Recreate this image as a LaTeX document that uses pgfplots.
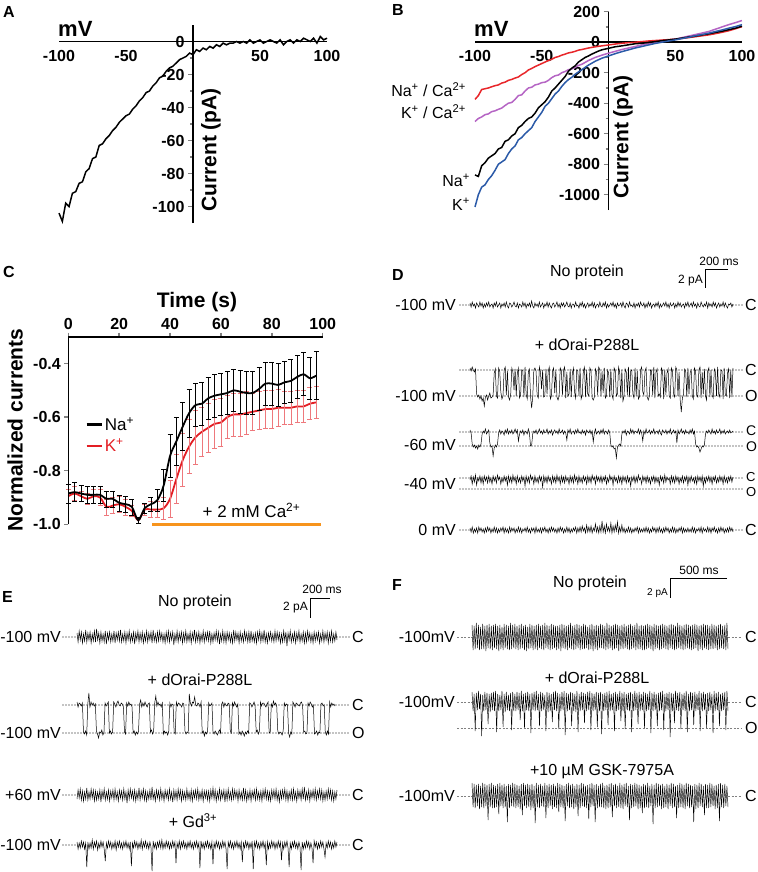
\documentclass[border=0pt]{standalone}
\usepackage{pgfplots}
\pgfplotsset{compat=1.18}
\usepackage{pgfplotstable}
\usepackage{fontspec}
\setmainfont{Liberation Sans}
\newcommand{\fs}[1]{\fontsize{#1}{#1}\selectfont}
\definecolor{bred}{HTML}{E8262A}
\definecolor{bpur}{HTML}{B565C4}
\definecolor{bblue}{HTML}{2B5AA8}
\definecolor{cred}{HTML}{E31E24}
\definecolor{corange}{HTML}{F7941D}
\pgfplotsset{
 iv/.style={scale only axis, anchor=south west, axis lines=middle, axis line style={-, line width=1.6pt},
  xmin=-100, xmax=100, xtick={-100,-50,50,100}, xtick style={draw=none}, tick align=outside,
  hide obscured x ticks=false, hide obscured y ticks=false,
  ytick style={line width=1.4pt}, minor tick style={line width=1.2pt}, major tick length=5pt, minor tick length=3pt, minor y tick num=1,
  tick label style={font=\bfseries\fs{16}}, /pgf/number format/assume math mode=true, /pgf/number format/1000 sep={}, clip=false},
 % traces in units of 0.1 pA, 240 samples
 trD/.style={hide axis, scale only axis, clip=false, anchor=origin, xmin=0, xmax=239, ymin=-50, ymax=20, height=70pt, width=#1},
 trs/.style={black, line width=0.5pt},
 trsF/.style={black, line width=0.45pt},
}
\tikzset{dots/.style={line width=1.4pt, dash pattern=on 0pt off 3pt, line cap=round},
 gdash/.style={gray, line width=0.5pt, dash pattern=on 2pt off 1.5pt},
 lab/.style={inner sep=0pt, font=\fs{16}}}
\pgfplotstableread{
t na ena k ek
0 -0.885 0.035 -0.895 0.025
2.5 -0.880 0.035 -0.885 0.025
5 -0.885 0.030 -0.895 0.020
7.5 -0.890 0.030 -0.905 0.020
10 -0.890 0.030 -0.895 0.025
12.5 -0.890 0.030 -0.900 0.030
15 -0.905 0.030 -0.935 0.030
17.5 -0.905 0.030 -0.930 0.030
20 -0.920 0.030 -0.925 0.030
22.5 -0.925 0.030 -0.935 0.030
25 -0.935 0.030 -0.950 0.020
27.5 -0.985 0.010 -0.985 0.010
30 -0.940 0.020 -0.945 0.020
32.5 -0.925 0.025 -0.945 0.030
35 -0.910 0.040 -0.945 0.030
37.5 -0.855 0.060 -0.940 0.040
40 -0.745 0.080 -0.905 0.070
42.5 -0.690 0.090 -0.830 0.090
45 -0.635 0.090 -0.760 0.100
47.5 -0.585 0.090 -0.710 0.100
50 -0.555 0.080 -0.675 0.100
52.5 -0.550 0.080 -0.655 0.090
55 -0.530 0.080 -0.640 0.090
57.5 -0.520 0.080 -0.625 0.090
60 -0.515 0.080 -0.620 0.090
62.5 -0.510 0.080 -0.600 0.080
65 -0.500 0.080 -0.590 0.080
67.5 -0.505 0.080 -0.590 0.080
70 -0.510 0.080 -0.585 0.080
72.5 -0.510 0.080 -0.580 0.070
75 -0.495 0.080 -0.575 0.070
77.5 -0.475 0.080 -0.570 0.070
80 -0.475 0.080 -0.570 0.070
82.5 -0.480 0.080 -0.565 0.070
85 -0.470 0.080 -0.565 0.060
87.5 -0.465 0.080 -0.565 0.060
90 -0.450 0.080 -0.560 0.060
92.5 -0.440 0.080 -0.560 0.060
95 -0.455 0.080 -0.550 0.060
97.5 -0.445 0.090 -0.545 0.060
}\dataC
\begin{document}
\begin{tikzpicture}
\useasboundingbox (0pt,0pt) rectangle (757pt,-872pt);
% panel letters
\node[anchor=west,inner sep=0,font=\bfseries\fs{16}] at (3pt,-12pt) {A};
\node[anchor=west,inner sep=0,font=\bfseries\fs{16}] at (392pt,-10pt) {B};
\node[anchor=west,inner sep=0,font=\bfseries\fs{16}] at (3pt,-272pt) {C};
\node[anchor=west,inner sep=0,font=\bfseries\fs{16}] at (392pt,-275pt) {D};
\node[anchor=west,inner sep=0,font=\bfseries\fs{16}] at (2pt,-597pt) {E};
\node[anchor=west,inner sep=0,font=\bfseries\fs{16}] at (392pt,-585pt) {F};

% ---------------- A
\begin{axis}[iv, at={(59pt,-223pt)}, width=268pt, height=198pt, ymin=-110, ymax=10, ytick={-100,-80,...,0}]
\addplot[black, line width=1.5pt] coordinates {
(-100,-104)(-97.5,-109)(-95,-98)(-92.5,-100)(-90,-92)(-87.5,-91)(-85,-86)(-82.5,-85)(-80,-79)(-77.5,-77)
(-75,-71)(-72.5,-70)(-70,-63)(-67.5,-62)(-65,-59)(-62.5,-57)(-60,-54)(-57.5,-52)(-55,-49)(-52.5,-47)
(-50,-45)(-47.5,-44)(-45,-41)(-42.5,-39)(-40,-36)(-37.5,-34)(-35,-31)(-32.5,-30)(-30,-27)(-27.5,-25)
(-25,-22)(-22.5,-21)(-20,-18)(-17.5,-16)(-15,-15)(-12.5,-13)(-10,-11)(-7.5,-10)(-5,-9)(-2.5,-7)
(0,-8)(2.5,-5)(5,-6)(7.5,-4)(10,-5)(12.5,-3)(15,-4)(17.5,-2)(20,-3)(22.5,-1)
(25,-2)(27.5,-1)(30,-1)(32.5,0)(35,-1)(37.5,0)(40,-1)(42.5,1)(45,-1)(47.5,0)
(50,1)(52.5,-1)(55,0)(57.5,1)(60,0)(62.5,-1)(65,1)(67.5,-2)(70,0)(72.5,1)
(75,-1)(77.5,1)(80,0)(82.5,2)(85,1)(87.5,0)(90,2)(92.5,-1)(95,3)(97.5,1)(100,2)};
\end{axis}
\node[anchor=base west,inner sep=0,font=\bfseries\fs{22}] at (58pt,-36.5pt) {mV};
\node[rotate=90,inner sep=0,font=\bfseries\fs{21}] at (211pt,-150pt) {Current (pA)};

% ---------------- B
\begin{axis}[iv, at={(475pt,-210pt)}, width=267pt, height=198.3pt, ymin=-1100, ymax=200, ytick={-1000,-800,...,200}]
\addplot[bred, line width=1.5pt] coordinates {
(-100,-375)(-97.5,-350)(-95,-310)(-92.5,-305)(-90,-300)(-87.5,-292)(-85,-285)(-82.5,-280)(-80,-268)(-77.5,-262)
(-75,-250)(-72.5,-244)(-70,-235)(-67.5,-228)(-65,-212)(-62.5,-200)(-60,-182)(-57.5,-172)(-55,-160)(-52.5,-150)
(-50,-140)(-47.5,-130)(-45,-120)(-42.5,-112)(-40,-100)(-37.5,-94)(-35,-85)(-32.5,-78)(-30,-70)(-27.5,-66)
(-25,-60)(-22.5,-52)(-20,-48)(-15,-38)(-10,-30)(-5,-24)(0,-18)(5,-12)(10,-7)(15,-3)(20,0)(25,4)(30,8)
(35,11)(40,14)(45,17)(50,20)(55,25)(60,30)(65,36)(70,42)(75,48)(80,56)(85,65)(90,75)(95,88)(100,102)};
\addplot[bpur, line width=1.5pt] coordinates {
(-100,-520)(-97.5,-500)(-95,-490)(-92.5,-475)(-90,-470)(-87.5,-455)(-85,-450)(-82.5,-440)(-80,-432)(-77.5,-415)
(-75,-400)(-72.5,-395)(-70,-375)(-67.5,-350)(-65,-345)(-62.5,-320)(-60,-300)(-57.5,-295)(-55,-280)(-52.5,-275)
(-50,-265)(-47.5,-262)(-45,-250)(-42.5,-232)(-40,-220)(-37.5,-215)(-35,-200)(-32.5,-192)(-30,-180)(-27.5,-175)
(-25,-165)(-22.5,-152)(-20,-145)(-15,-120)(-10,-100)(-5,-85)(0,-72)(5,-60)(10,-48)(15,-38)(20,-28)(25,-18)
(30,-10)(35,-2)(40,6)(45,14)(50,20)(55,30)(60,40)(65,50)(70,60)(75,70)(80,85)(85,100)(90,115)(95,128)(100,142)};
\addplot[black, line width=1.5pt] coordinates {
(-100,-870)(-97.5,-880)(-95,-810)(-92.5,-790)(-90,-760)(-87.5,-745)(-85,-730)(-82.5,-700)(-80,-690)(-77.5,-650)
(-75,-640)(-72.5,-615)(-70,-600)(-67.5,-560)(-65,-545)(-62.5,-520)(-60,-500)(-57.5,-490)(-55,-465)(-52.5,-430)
(-50,-410)(-47.5,-390)(-45,-360)(-42.5,-320)(-40,-300)(-37.5,-275)(-35,-250)(-32.5,-225)(-30,-190)(-27.5,-170)
(-25,-155)(-22.5,-130)(-20,-115)(-17.5,-100)(-15,-90)(-12.5,-78)(-10,-68)(-7.5,-58)(-5,-50)(-2.5,-45)
(0,-40)(5,-30)(10,-24)(15,-17)(20,-10)(25,-7)(30,-2)(35,4)(40,10)(45,15)(50,20)(55,27)(60,34)(65,40)
(70,48)(75,55)(80,64)(85,72)(90,82)(95,92)(100,105)};
\addplot[bblue, line width=1.5pt] coordinates {
(-100,-1080)(-97.5,-1000)(-95,-950)(-92.5,-935)(-90,-900)(-87.5,-875)(-85,-840)(-82.5,-800)(-80,-785)(-77.5,-770)
(-75,-730)(-72.5,-700)(-70,-680)(-67.5,-640)(-65,-625)(-62.5,-600)(-60,-580)(-57.5,-560)(-55,-520)(-52.5,-490)
(-50,-460)(-47.5,-420)(-45,-400)(-42.5,-370)(-40,-340)(-37.5,-320)(-35,-290)(-32.5,-265)(-30,-245)(-27.5,-230)
(-25,-210)(-22.5,-195)(-20,-180)(-15,-150)(-10,-125)(-5,-105)(0,-90)(5,-75)(10,-62)(15,-50)(20,-38)(25,-28)
(30,-18)(35,-8)(40,0)(45,8)(50,15)(55,24)(60,32)(65,42)(70,50)(75,59)(80,70)(85,80)(90,92)(95,102)(100,115)};
\end{axis}
\node[anchor=base west,inner sep=0,font=\bfseries\fs{22}] at (474pt,-36.5pt) {mV};
\node[rotate=90,inner sep=0,font=\bfseries\fs{21}] at (623pt,-137pt) {Current (pA)};
\node[anchor=east,lab] at (466pt,-90pt) {Na\textsuperscript{+} / Ca\textsuperscript{2+}};
\node[anchor=east,lab] at (466pt,-112pt) {K\textsuperscript{+} / Ca\textsuperscript{2+}};
\node[anchor=east,lab] at (470pt,-180pt) {Na\textsuperscript{+}};
\node[anchor=east,lab] at (470pt,-204pt) {K\textsuperscript{+}};

% ---------------- C
\begin{axis}[scale only axis, at={(68.3pt,-524.3pt)}, anchor=south west, width=254.4pt, height=187.6pt,
 xmin=0, xmax=100, ymin=-1.0, ymax=-0.3, axis x line=top, axis y line=left, axis line style={-, line width=1.6pt},
 xtick={0,20,...,100}, ytick={-1.0,-0.8,-0.6,-0.4}, tick align=outside, major tick length=4pt, tick style={line width=1.4pt},
 tick label style={font=\bfseries\fs{16}}, /pgf/number format/assume math mode=true,
 yticklabel style={/pgf/number format/.cd, fixed, fixed zerofill, precision=1}, clip=false,
 legend style={at={(0.066,0.583)}, anchor=north west, draw=none, fill=none, font=\fs{17}, row sep=3pt, inner sep=0pt},
 legend cell align=left, legend image code/.code={\draw[#1] (0pt,0pt) -- (15pt,0pt);}]
\addlegendimage{black, line width=2.5pt}\addlegendentry{Na\textsuperscript{+}}
\addlegendimage{cred, line width=2.5pt}\addlegendentry{\textcolor{cred}{K\textsuperscript{+}}}
\addplot[corange, line width=3pt, forget plot] coordinates {(33,-1.0)(99.5,-1.0)};
\addplot[cred, line width=1.8pt, smooth, forget plot, error bars/.cd, y dir=both, y explicit,
  error bar style={cred!60, line width=0.6pt}, error mark options={cred!60, line width=0.6pt, mark size=2.5pt, rotate=90}]
  table[x=t, y=k, y error=ek] {\dataC};
\addplot[black, line width=1.8pt, smooth, forget plot, error bars/.cd, y dir=both, y explicit,
  error bar style={black, line width=0.6pt}, error mark options={black, line width=0.6pt, mark size=2.5pt, rotate=90}]
  table[x=t, y=na, y error=ena] {\dataC};
\node[font=\fs{17}] at (axis cs:72,-0.947) {+ 2 mM Ca\textsuperscript{2+}};
\end{axis}
\node[inner sep=0,font=\bfseries\fs{21}] at (197pt,-302pt) {Time (s)};
\node[rotate=90,inner sep=0,font=\bfseries\fs{21}] at (15pt,-430pt) {Normalized currents};

% ---------------- D
\node[lab] at (587pt,-272pt) {No protein};
\draw[line width=0.8pt] (728.3pt,-269pt) -- (705.7pt,-269pt) -- (705.7pt,-288pt);
\node[inner sep=0, font=\fs{12}] at (719pt,-261pt) {200 ms};
\node[inner sep=0, anchor=east, font=\fs{12}] at (703pt,-281pt) {2 pA};
\node[lab] at (587pt,-345pt) {+ dOrai-P288L};
\draw[dots] (460pt,-305pt) -- (470pt,-305pt); \draw[dots] (733pt,-305pt) -- (743pt,-305pt);
\draw[dots] (460pt,-370pt) -- (743pt,-370pt); \draw[dots] (460pt,-396pt) -- (743pt,-396pt);
\draw[dots] (460pt,-432pt) -- (743pt,-432pt); \draw[dots] (460pt,-446pt) -- (743pt,-446pt);
\draw[dots] (460pt,-478pt) -- (743pt,-478pt); \draw[dots] (460pt,-489pt) -- (743pt,-489pt);
\draw[dots] (460pt,-530pt) -- (470pt,-530pt); \draw[dots] (733pt,-530pt) -- (743pt,-530pt);
\node[lab,anchor=east] at (456pt,-305pt) {-100 mV}; \node[lab,anchor=west] at (745pt,-305pt) {C};
\node[lab,anchor=east] at (456pt,-396pt) {-100 mV}; \node[lab,anchor=west] at (745pt,-370pt) {C}; \node[lab,anchor=west] at (745pt,-396pt) {O};
\node[lab,anchor=east] at (456pt,-445pt) {-60 mV}; \node[lab,anchor=west,font=\fs{14}] at (746pt,-431pt) {C}; \node[lab,anchor=west,font=\fs{14}] at (746pt,-447pt) {O};
\node[lab,anchor=east] at (456pt,-484pt) {-40 mV}; \node[lab,anchor=west,font=\fs{13}] at (746pt,-477pt) {C}; \node[lab,anchor=west,font=\fs{13}] at (746pt,-492pt) {O};
\node[lab,anchor=east] at (456pt,-530pt) {0 mV}; \node[lab,anchor=west] at (745pt,-530pt) {C};

\begin{axis}[trD=263pt, at={(470pt,-305pt)}]
\addplot[trs] table[x expr=\coordindex, y index=0, header=false, row sep=\\] {
2\\-2\\3\\-1\\1\\-3\\2\\0\\-2\\3\\-1\\2\\-3\\1\\-2\\2\\-1\\3\\-2\\0\\
1\\-3\\2\\-1\\3\\-2\\0\\2\\-3\\1\\-1\\2\\-2\\3\\-1\\-3\\2\\1\\-2\\0\\
3\\-1\\-2\\2\\-3\\1\\0\\-2\\3\\-1\\2\\-3\\1\\-1\\2\\-2\\4\\-1\\-3\\2\\
-1\\1\\-2\\3\\-2\\0\\2\\-3\\1\\-1\\3\\-2\\2\\-1\\-3\\1\\2\\-2\\0\\3\\
-2\\1\\-3\\2\\-1\\2\\-2\\0\\3\\-1\\-2\\2\\-3\\1\\1\\-2\\3\\-1\\0\\-3\\
2\\-1\\3\\-2\\1\\-3\\0\\2\\-2\\1\\-1\\3\\-2\\2\\-3\\0\\1\\-2\\3\\-1\\
-2\\2\\-1\\3\\-3\\1\\-2\\0\\2\\-1\\3\\-2\\1\\-3\\2\\-1\\0\\2\\-2\\3\\
-1\\-3\\2\\1\\-2\\3\\-1\\0\\-2\\2\\-3\\1\\-1\\2\\-2\\3\\0\\-1\\2\\-3\\
1\\-2\\3\\-1\\2\\-3\\0\\1\\-2\\2\\-1\\3\\-3\\1\\-2\\0\\2\\-1\\3\\-2\\
1\\-3\\2\\-1\\0\\2\\-3\\1\\-2\\3\\-1\\2\\-2\\0\\1\\-3\\2\\-1\\3\\-2\\
0\\2\\-2\\3\\-1\\1\\-3\\2\\-1\\-2\\3\\0\\-2\\1\\-1\\3\\-3\\2\\-1\\1\\
-2\\3\\-1\\2\\-3\\0\\2\\-2\\1\\-1\\3\\-2\\2\\-1\\-3\\1\\0\\2\\-2\\1\\};
\end{axis}
\begin{axis}[trD=263pt, at={(470pt,-370pt)}]
\addplot[trs] table[x expr=\coordindex, y index=0, header=false, row sep=\\] {
2\\-1\\3\\0\\-2\\1\\-24\\-27\\-25\\-29\\-26\\-31\\-28\\-36\\-27\\-25\\-30\\-26\\-23\\-28\\
-27\\-25\\-3\\1\\-26\\-28\\2\\-1\\-22\\-29\\-26\\0\\3\\-25\\-1\\-27\\-30\\-24\\2\\-2\\
-20\\1\\-26\\-3\\2\\-28\\-25\\0\\-1\\-27\\3\\-24\\-29\\-2\\1\\-26\\-38\\-27\\0\\2\\
-1\\-25\\-28\\3\\-2\\-19\\0\\-27\\-26\\1\\-24\\-2\\3\\-29\\-26\\-1\\2\\-23\\0\\-27\\
-30\\-26\\2\\-1\\-25\\0\\3\\-28\\-2\\-26\\-24\\1\\-27\\-3\\2\\-22\\-28\\0\\-1\\-26\\
2\\-29\\-25\\-1\\3\\-27\\0\\-24\\-26\\2\\-1\\-28\\-30\\-27\\1\\-2\\-25\\3\\0\\-26\\
-1\\-23\\2\\-28\\-26\\0\\-3\\-27\\1\\-25\\-29\\2\\-1\\-26\\-24\\3\\-2\\-28\\0\\-31\\
-26\\1\\-2\\-25\\3\\-27\\-1\\0\\-24\\-28\\2\\-26\\-1\\-29\\-27\\0\\3\\-22\\-25\\-1\\
2\\-27\\-30\\-26\\0\\-1\\-25\\3\\-28\\-2\\1\\-26\\-24\\-27\\2\\-1\\-29\\0\\-25\\-3\\
1\\-26\\-28\\2\\-1\\-24\\-27\\3\\0\\-26\\-2\\-30\\-42\\-28\\-25\\1\\-1\\-27\\2\\-24\\
-3\\0\\-26\\-29\\2\\-1\\-25\\-27\\0\\3\\-28\\-2\\-24\\1\\-26\\-30\\-1\\2\\-27\\0\\
-25\\-28\\1\\-2\\-26\\3\\-24\\-27\\0\\-1\\-29\\2\\-25\\-26\\-3\\1\\-28\\0\\-27\\2\\};
\end{axis}
\begin{axis}[trD=263pt, at={(470pt,-432pt)}]
\addplot[trs] table[x expr=\coordindex, y index=0, header=false, row sep=\\] {
2\\-1\\-12\\-15\\-13\\-16\\-14\\-17\\-13\\-15\\-12\\-2\\1\\-1\\3\\-2\\0\\2\\-11\\-15\\
-14\\-24\\-16\\-13\\-15\\-12\\-1\\2\\-2\\1\\0\\-3\\2\\-1\\3\\-2\\1\\-1\\2\\-2\\
0\\3\\-1\\2\\-9\\-2\\1\\-1\\2\\-3\\1\\0\\-2\\3\\-1\\-14\\-13\\-2\\1\\-1\\
2\\-2\\0\\3\\-1\\1\\-2\\2\\-1\\0\\3\\-2\\1\\-1\\2\\-3\\0\\2\\-1\\1\\
-2\\3\\-1\\0\\2\\-2\\1\\-1\\-8\\2\\-1\\3\\-2\\0\\1\\-2\\2\\-1\\3\\-1\\
0\\-2\\2\\-1\\1\\-3\\2\\0\\-1\\2\\-2\\1\\-10\\-1\\3\\-2\\0\\1\\-2\\2\\
-1\\3\\-2\\1\\0\\-2\\2\\-1\\-13\\-15\\-14\\-17\\-16\\-26\\-15\\-13\\-12\\-14\\-2\\1\\
-1\\2\\-3\\1\\0\\-2\\3\\-1\\2\\-2\\1\\0\\-1\\3\\-2\\2\\-1\\-9\\1\\-2\\
3\\-1\\0\\2\\-2\\1\\-1\\3\\-2\\0\\1\\-2\\2\\-1\\-3\\2\\0\\-1\\2\\-2\\
1\\-1\\3\\-2\\0\\2\\-1\\1\\-11\\2\\-2\\0\\3\\-1\\1\\-2\\2\\-1\\0\\-2\\
2\\-1\\3\\-2\\1\\-12\\-15\\-14\\-16\\-20\\-17\\-14\\-15\\-13\\-2\\1\\-1\\2\\0\\-2\\
3\\-1\\1\\-2\\2\\-1\\0\\3\\-2\\1\\-1\\2\\-2\\0\\1\\-1\\2\\-1\\0\\1\\};
\end{axis}
\begin{axis}[trD=263pt, at={(470pt,-478pt)}]
\addplot[trs] table[x expr=\coordindex, y index=0, header=false, row sep=\\] {
-2\\2\\-6\\1\\-4\\3\\-7\\0\\-3\\2\\-5\\1\\-6\\2\\-3\\1\\-5\\2\\-4\\0\\
-6\\2\\-3\\1\\-5\\3\\-2\\1\\-6\\0\\-4\\2\\-3\\1\\-7\\2\\-4\\1\\-5\\3\\
-3\\1\\-6\\2\\-4\\0\\-5\\2\\-3\\1\\-8\\2\\-4\\1\\-5\\3\\-2\\1\\-6\\2\\
-4\\0\\-5\\2\\-3\\1\\-9\\2\\-4\\1\\-5\\2\\-3\\0\\-6\\2\\-4\\1\\-5\\3\\
-3\\1\\-6\\2\\-4\\1\\-5\\2\\-3\\0\\-6\\2\\-4\\1\\-5\\3\\-3\\1\\-6\\2\\
-4\\0\\-5\\2\\-3\\1\\-6\\2\\-4\\1\\-5\\3\\-2\\1\\-6\\2\\-3\\1\\-4\\2\\
-5\\1\\-3\\2\\-6\\0\\-4\\3\\-2\\1\\-7\\2\\-3\\0\\-5\\2\\-4\\1\\-6\\2\\
-3\\1\\-5\\2\\-4\\0\\-8\\1\\-3\\2\\-5\\1\\-4\\3\\-2\\0\\-6\\2\\-3\\1\\
-5\\2\\-4\\0\\-6\\1\\-3\\2\\-5\\1\\-4\\0\\-7\\2\\-3\\1\\-5\\3\\-4\\1\\
-2\\0\\-6\\2\\-4\\1\\-5\\2\\-3\\1\\-6\\0\\-4\\2\\-5\\1\\-3\\2\\-7\\1\\
-4\\2\\-3\\0\\-5\\1\\-6\\2\\-3\\1\\-4\\2\\-8\\0\\-5\\1\\-3\\2\\-4\\1\\
-6\\1\\-3\\2\\-5\\0\\-4\\2\\-3\\1\\-6\\2\\-4\\0\\-5\\1\\-3\\2\\-4\\1\\};
\end{axis}
\begin{axis}[trD=263pt, at={(470pt,-530pt)}]
\addplot[trs] table[x expr=\coordindex, y index=0, header=false, row sep=\\] {
2\\-2\\3\\-3\\1\\-2\\2\\-3\\3\\-1\\2\\-2\\1\\-3\\2\\-2\\3\\-1\\2\\-3\\
1\\-2\\3\\-2\\2\\-3\\1\\-2\\2\\-1\\3\\-3\\2\\-2\\1\\-3\\3\\-2\\2\\-1\\
2\\-3\\1\\-2\\3\\-2\\2\\-3\\1\\-1\\2\\-2\\3\\-2\\1\\-3\\2\\-1\\2\\-3\\
3\\-2\\1\\-2\\2\\-3\\2\\-1\\3\\-2\\1\\-3\\2\\-2\\3\\-1\\2\\-2\\1\\-3\\
2\\-2\\3\\-1\\2\\-3\\1\\-2\\3\\-2\\2\\-3\\1\\-2\\2\\-1\\3\\-3\\2\\-2\\
3\\-2\\4\\-1\\2\\-3\\5\\-2\\3\\-2\\4\\-3\\2\\-1\\6\\-2\\3\\-3\\4\\-2\\
9\\-2\\4\\-3\\6\\-1\\3\\-2\\7\\-3\\4\\-2\\5\\-1\\8\\-3\\3\\-2\\5\\-2\\
2\\-3\\1\\-2\\3\\-2\\2\\-3\\1\\-2\\2\\-1\\3\\-3\\2\\-2\\1\\-2\\2\\-2\\
3\\-2\\2\\-3\\1\\-2\\3\\-1\\2\\-3\\2\\-2\\3\\-2\\1\\-3\\2\\-2\\3\\-1\\
2\\-3\\1\\-2\\3\\-2\\2\\-3\\1\\-2\\2\\-1\\3\\-3\\2\\-2\\1\\-2\\2\\-2\\
1\\-2\\3\\-2\\2\\-3\\1\\-1\\2\\-2\\3\\-3\\2\\-1\\1\\-2\\3\\-2\\2\\-3\\
2\\-1\\3\\-2\\1\\-3\\2\\-2\\3\\-1\\2\\-3\\1\\-2\\2\\-2\\3\\-1\\2\\-2\\};
\end{axis}

% ---------------- E
\node[lab] at (195pt,-602pt) {No protein};
\draw[line width=0.8pt] (330pt,-598pt) -- (310pt,-598pt) -- (310pt,-618pt);
\node[inner sep=0, font=\fs{12}] at (322pt,-589pt) {200 ms};
\node[inner sep=0, anchor=east, font=\fs{12}] at (308pt,-608pt) {2 pA};
\node[lab] at (200pt,-680pt) {+ dOrai-P288L};
\node[lab] at (193pt,-821pt) {+ Gd\textsuperscript{3+}};
\draw[dots] (63pt,-637pt) -- (77pt,-637pt); \draw[dots] (337pt,-637pt) -- (349pt,-637pt);
\draw[dots] (63pt,-705pt) -- (349pt,-705pt); \draw[dots] (63pt,-733pt) -- (349pt,-733pt);
\draw[dots] (63pt,-795pt) -- (77pt,-795pt); \draw[dots] (337pt,-795pt) -- (349pt,-795pt);
\draw[dots] (63pt,-845pt) -- (77pt,-845pt); \draw[dots] (337pt,-845pt) -- (349pt,-845pt);
\node[lab,anchor=east] at (61pt,-637pt) {-100 mV}; \node[lab,anchor=west] at (352pt,-637pt) {C};
\node[lab,anchor=east] at (61pt,-733pt) {-100 mV}; \node[lab,anchor=west] at (352pt,-705pt) {C}; \node[lab,anchor=west] at (352pt,-733pt) {O};
\node[lab,anchor=east] at (61pt,-795pt) {+60 mV}; \node[lab,anchor=west] at (352pt,-795pt) {C};
\node[lab,anchor=east] at (61pt,-845pt) {-100 mV}; \node[lab,anchor=west] at (352pt,-845pt) {C};

\begin{axis}[trD=260pt, at={(77pt,-637pt)}]
\addplot[trs] table[x expr=\coordindex, y index=0, header=false, row sep=\\] {
4\\-5\\6\\-3\\5\\-6\\3\\-4\\7\\-5\\4\\-3\\5\\-6\\3\\-4\\6\\-5\\8\\-3\\
4\\-6\\5\\-4\\3\\-5\\6\\-7\\4\\-3\\5\\-5\\3\\-4\\6\\-6\\4\\-3\\5\\-4\\
7\\-5\\3\\-4\\5\\-6\\4\\-3\\6\\-5\\3\\-4\\5\\-7\\4\\-3\\6\\-5\\4\\-4\\
5\\-6\\3\\-4\\6\\-5\\4\\-3\\5\\-6\\7\\-4\\3\\-5\\5\\-4\\6\\-3\\4\\-5\\
3\\-6\\5\\-4\\6\\-5\\4\\-3\\5\\-8\\3\\-4\\6\\-5\\4\\-3\\5\\-6\\4\\-4\\
6\\-5\\3\\-4\\5\\-6\\4\\-3\\7\\-5\\4\\-4\\5\\-6\\3\\-4\\6\\-5\\4\\-3\\
5\\-4\\6\\-6\\3\\-5\\4\\-3\\6\\-4\\5\\-7\\3\\-4\\6\\-5\\4\\-6\\5\\-3\\
4\\-5\\3\\-6\\7\\-4\\5\\-3\\4\\-6\\5\\-4\\3\\-5\\6\\-3\\4\\-5\\5\\-6\\
6\\-4\\3\\-5\\4\\-6\\5\\-3\\6\\-5\\4\\-4\\7\\-5\\3\\-6\\4\\-3\\5\\-4\\
3\\-5\\6\\-4\\5\\-3\\4\\-6\\3\\-5\\6\\-4\\5\\-9\\4\\-3\\6\\-5\\3\\-4\\
5\\-6\\4\\-3\\6\\-5\\3\\-4\\5\\-6\\4\\-5\\6\\-3\\4\\-5\\3\\-6\\5\\-4\\
4\\-3\\5\\-6\\3\\-4\\6\\-5\\4\\-3\\5\\-6\\4\\-4\\6\\-5\\3\\-4\\5\\-3\\};
\end{axis}
\begin{axis}[trD=258pt, at={(77pt,-705pt)}]
\addplot[trs] table[x expr=\coordindex, y index=0, header=false, row sep=\\] {
3\\-2\\2\\1\\-1\\2\\-27\\-29\\-26\\-30\\1\\12\\-2\\3\\0\\2\\-1\\1\\-26\\-29\\
-33\\-27\\-28\\-25\\-30\\-27\\2\\-1\\1\\3\\-28\\-26\\-29\\-27\\3\\1\\-2\\2\\4\\0\\
-1\\2\\1\\-2\\-27\\-29\\2\\-1\\3\\0\\1\\-2\\-28\\-26\\-30\\-27\\-29\\-26\\1\\5\\
-2\\2\\-1\\3\\0\\-2\\1\\2\\-27\\-25\\-29\\-26\\2\\9\\-1\\3\\0\\1\\-2\\2\\
-29\\-26\\-28\\-27\\-30\\-26\\2\\-2\\1\\0\\-27\\-29\\3\\-1\\2\\1\\0\\-2\\2\\1\\
-26\\-29\\-27\\-28\\11\\2\\-1\\3\\2\\8\\0\\-1\\2\\1\\-2\\3\\-28\\-26\\-31\\-27\\
-29\\-26\\2\\-1\\0\\2\\-27\\-29\\-26\\-28\\-30\\-27\\-25\\-28\\1\\3\\-2\\2\\0\\-1\\
2\\1\\-26\\-28\\2\\-1\\3\\0\\-2\\1\\-29\\-27\\-30\\-26\\-28\\-31\\-27\\-29\\-26\\-28\\
2\\1\\-2\\0\\3\\-1\\-27\\-25\\-29\\-26\\3\\-1\\2\\2\\0\\-2\\1\\3\\-28\\-27\\
1\\-2\\4\\0\\2\\-1\\-26\\-29\\-27\\-28\\-30\\-26\\2\\-1\\1\\0\\-28\\-32\\-27\\-29\\
3\\1\\-2\\2\\1\\0\\-1\\2\\3\\-1\\-27\\-26\\-29\\-28\\2\\-1\\3\\1\\-2\\0\\
-29\\-28\\-26\\-30\\-27\\-28\\1\\2\\-1\\0\\-27\\-30\\-26\\-29\\3\\-2\\2\\0\\1\\-1\\};
\end{axis}
\begin{axis}[trD=260pt, at={(77pt,-795pt)}]
\addplot[trs] table[x expr=\coordindex, y index=0, header=false, row sep=\\] {
-4\\5\\-3\\6\\-5\\4\\-6\\3\\-4\\7\\-5\\3\\-4\\6\\-3\\5\\-6\\4\\-5\\3\\
-4\\5\\-7\\4\\-3\\6\\-5\\3\\-4\\5\\-6\\4\\-3\\5\\-5\\6\\-4\\3\\-6\\5\\
-3\\4\\-5\\6\\-4\\3\\-8\\5\\-4\\6\\-3\\4\\-5\\5\\-6\\3\\-4\\7\\-5\\4\\
-3\\6\\-5\\4\\-6\\3\\-4\\5\\-5\\8\\-4\\3\\-6\\5\\-3\\4\\-5\\6\\-4\\3\\
-6\\5\\-3\\4\\-5\\6\\-4\\3\\-7\\5\\-4\\4\\-5\\6\\-3\\5\\-6\\4\\-4\\3\\
-5\\6\\-4\\3\\-5\\5\\-6\\4\\-3\\5\\-4\\6\\-5\\3\\-4\\5\\-6\\4\\-3\\4\\
-5\\4\\-6\\5\\-3\\7\\-4\\5\\-6\\3\\-4\\6\\-5\\4\\-3\\5\\-7\\4\\-5\\6\\
-4\\3\\-5\\6\\-4\\5\\-3\\4\\-6\\5\\-4\\3\\-5\\7\\-4\\5\\-6\\3\\-4\\5\\
-6\\4\\-3\\5\\-5\\6\\-4\\3\\-5\\4\\-6\\5\\-3\\6\\-4\\4\\-5\\3\\-6\\5\\
-3\\5\\-4\\6\\-5\\3\\-7\\4\\-4\\5\\-3\\6\\-5\\4\\-6\\3\\-4\\5\\-5\\6\\
-4\\3\\-6\\5\\-3\\4\\-5\\6\\-4\\8\\-5\\3\\-4\\5\\-6\\4\\-3\\5\\-4\\6\\
-5\\4\\-3\\6\\-4\\5\\-6\\3\\-5\\4\\-4\\6\\-3\\5\\-5\\4\\-6\\3\\-4\\5\\};
\end{axis}
\begin{axis}[trD=260pt, at={(77pt,-845pt)}]
\addplot[trs] table[x expr=\coordindex, y index=0, header=false, row sep=\\] {
3\\-4\\2\\-3\\4\\-2\\3\\-4\\2\\-22\\3\\-4\\2\\-3\\5\\-4\\3\\-2\\4\\-5\\
2\\-3\\4\\-2\\3\\-4\\-16\\2\\-3\\4\\-2\\3\\-4\\2\\-3\\4\\-5\\3\\-2\\4\\
-3\\2\\-4\\3\\-2\\4\\-3\\2\\-4\\3\\-21\\2\\-3\\4\\-2\\3\\-4\\2\\-3\\5\\
-4\\3\\-2\\4\\-3\\2\\-4\\3\\-2\\-26\\4\\-3\\2\\-4\\3\\-2\\4\\-3\\5\\-4\\
2\\-3\\4\\-2\\3\\-4\\2\\-3\\4\\-2\\3\\-18\\2\\-3\\4\\-4\\3\\-2\\4\\-3\\
2\\-4\\3\\-2\\4\\-3\\2\\-4\\3\\-2\\4\\-3\\2\\-23\\4\\-3\\2\\-4\\3\\-2\\
4\\-3\\2\\-4\\3\\-19\\2\\-3\\4\\-2\\3\\-4\\2\\-3\\4\\-2\\3\\-4\\-24\\3\\
-2\\4\\-3\\2\\-4\\3\\-2\\4\\-3\\2\\-4\\3\\-17\\2\\-3\\4\\-2\\3\\-4\\2\\
-3\\4\\-24\\3\\-2\\4\\-3\\2\\-4\\3\\-2\\4\\-3\\2\\-20\\3\\-4\\2\\-3\\4\\
-2\\3\\-4\\2\\-3\\4\\-2\\3\\-15\\2\\-4\\3\\-2\\4\\-3\\-22\\2\\-4\\3\\-2\\
4\\-3\\2\\-4\\3\\-2\\-25\\3\\-4\\2\\-3\\4\\-2\\3\\-4\\2\\-3\\-18\\4\\-2\\
3\\-4\\2\\-3\\4\\-2\\3\\-4\\-12\\2\\-3\\4\\-2\\3\\-4\\2\\-3\\4\\-2\\3\\};
\end{axis}

% ---------------- F
\node[lab] at (590pt,-583pt) {No protein};
\draw[line width=0.6pt] (727pt,-578pt) -- (670pt,-578pt) -- (670pt,-598pt);
\node[inner sep=0, font=\fs{12}] at (699pt,-570pt) {500 ms};
\node[inner sep=0, anchor=east, font=\fs{10}] at (668pt,-593pt) {2 pA};
\node[lab] at (597pt,-678pt) {+ dOrai-P288L};
\node[lab] at (602pt,-772pt) {+10 µM GSK-7975A};
\draw[gdash] (457pt,-637pt) -- (472pt,-637pt); \draw[gdash] (728pt,-637pt) -- (742pt,-637pt);
\draw[gdash] (457pt,-702pt) -- (472pt,-702pt); \draw[gdash] (728pt,-702pt) -- (742pt,-702pt);
\draw[gdash] (457pt,-728pt) -- (742pt,-728pt);
\draw[gdash] (457pt,-796pt) -- (472pt,-796pt); \draw[gdash] (728pt,-796pt) -- (742pt,-796pt);
\node[lab,anchor=east] at (455pt,-637pt) {-100mV}; \node[lab,anchor=west] at (745pt,-637pt) {C};
\node[lab,anchor=east] at (455pt,-702pt) {-100mV}; \node[lab,anchor=west] at (745pt,-702pt) {C}; \node[lab,anchor=west] at (745pt,-728pt) {O};
\node[lab,anchor=east] at (455pt,-796pt) {-100mV}; \node[lab,anchor=west] at (745pt,-796pt) {C};

\begin{axis}[trD=256pt, at={(472pt,-637pt)}]
\addplot[trsF] table[x expr=\coordindex, y index=0, header=false, row sep=\\] {
12\\-13\\11\\-12\\14\\-11\\12\\-13\\10\\-12\\13\\-12\\11\\-14\\12\\-11\\13\\-12\\11\\-13\\
12\\-11\\13\\-12\\11\\-14\\12\\-12\\10\\-13\\13\\-11\\12\\-12\\11\\-13\\14\\-12\\12\\-11\\
13\\-12\\11\\-13\\12\\-12\\13\\-11\\11\\-13\\12\\-14\\10\\-12\\13\\-11\\12\\-13\\11\\-12\\
12\\-13\\13\\-11\\11\\-12\\12\\-13\\14\\-11\\12\\-12\\11\\-13\\13\\-12\\12\\-11\\11\\-13\\
11\\-12\\12\\-14\\13\\-11\\12\\-12\\11\\-13\\12\\-11\\14\\-12\\11\\-13\\12\\-12\\13\\-11\\
12\\-13\\11\\-12\\13\\-12\\12\\-11\\10\\-13\\12\\-12\\13\\-14\\11\\-12\\12\\-13\\11\\-11\\
13\\-11\\12\\-12\\11\\-13\\14\\-12\\12\\-11\\11\\-13\\12\\-12\\13\\-11\\12\\-14\\11\\-12\\
12\\-12\\13\\-11\\11\\-12\\12\\-13\\13\\-12\\11\\-11\\12\\-13\\14\\-12\\11\\-12\\12\\-13\\
11\\-13\\12\\-12\\13\\-11\\12\\-12\\11\\-14\\13\\-12\\12\\-11\\11\\-13\\12\\-12\\13\\-11\\
12\\-12\\11\\-13\\12\\-11\\13\\-12\\12\\-13\\11\\-12\\14\\-11\\12\\-12\\11\\-13\\12\\-12\\
13\\-11\\12\\-12\\11\\-13\\12\\-12\\13\\-11\\12\\-14\\11\\-12\\12\\-13\\13\\-11\\12\\-12\\
12\\-13\\11\\-12\\13\\-12\\12\\-11\\11\\-13\\12\\-12\\13\\-11\\11\\-12\\12\\-13\\14\\-12\\};
\end{axis}
\begin{axis}[trD=256pt, at={(472pt,-702pt)}]
\addplot[trsF] table[x expr=\coordindex, y index=0, header=false, row sep=\\] {
10\\-9\\8\\-29\\9\\-8\\11\\-7\\8\\-34\\7\\-9\\10\\-8\\9\\-22\\8\\-10\\9\\-8\\
10\\-9\\11\\-30\\8\\-9\\7\\-8\\11\\-25\\8\\-10\\10\\-8\\7\\-9\\9\\-28\\10\\-9\\
8\\-9\\10\\-8\\9\\-18\\11\\-9\\8\\-26\\9\\-8\\10\\-9\\8\\-31\\9\\-8\\10\\-9\\
11\\-8\\8\\-24\\10\\-9\\9\\-8\\7\\-29\\10\\-10\\9\\-9\\8\\-20\\10\\-8\\11\\-9\\
9\\-27\\8\\-9\\10\\-8\\11\\-33\\9\\-9\\8\\-8\\10\\-24\\9\\-9\\8\\-10\\11\\-30\\
8\\-9\\10\\-8\\9\\-21\\8\\-9\\10\\-8\\11\\-28\\9\\-9\\8\\-8\\10\\-25\\9\\-9\\
10\\-32\\8\\-9\\9\\-8\\10\\-23\\11\\-9\\8\\-8\\9\\-29\\10\\-9\\8\\-8\\11\\-19\\
9\\-9\\10\\-27\\8\\-8\\9\\-9\\10\\-30\\8\\-9\\11\\-8\\9\\-22\\10\\-9\\8\\-8\\
10\\-26\\9\\-9\\8\\-8\\11\\-31\\9\\-9\\10\\-8\\8\\-24\\9\\-9\\10\\-8\\11\\-28\\
8\\-9\\9\\-8\\10\\-35\\9\\-9\\8\\-21\\11\\-8\\9\\-9\\10\\-27\\8\\-8\\9\\-9\\
11\\-30\\8\\-9\\10\\-8\\9\\-23\\10\\-9\\8\\-8\\11\\-29\\9\\-9\\10\\-8\\8\\-26\\
9\\-9\\10\\-8\\8\\-31\\11\\-9\\9\\-8\\10\\-24\\8\\-9\\9\\-8\\10\\-28\\11\\-9\\};
\end{axis}
\begin{axis}[trD=256pt, at={(472pt,-796pt)}]
\addplot[trsF] table[x expr=\coordindex, y index=0, header=false, row sep=\\] {
13\\-11\\12\\-12\\11\\-10\\12\\-13\\10\\-11\\13\\-12\\12\\-10\\11\\-24\\12\\-11\\13\\-12\\
11\\-12\\10\\-11\\12\\-18\\13\\-10\\11\\-12\\12\\-11\\10\\-26\\12\\-12\\11\\-10\\13\\-11\\
12\\-12\\11\\-11\\10\\-13\\12\\-19\\13\\-10\\11\\-12\\12\\-11\\11\\-14\\12\\-12\\10\\-27\\
13\\-11\\11\\-12\\12\\-10\\10\\-11\\13\\-22\\11\\-12\\12\\-10\\11\\-13\\12\\-11\\10\\-12\\
13\\-16\\12\\-11\\11\\-12\\10\\-25\\12\\-10\\13\\-12\\11\\-11\\12\\-13\\10\\-11\\12\\-20\\
11\\-12\\13\\-10\\12\\-11\\10\\-12\\11\\-23\\12\\-11\\13\\-10\\11\\-26\\12\\-12\\10\\-11\\
12\\-11\\13\\-12\\10\\-13\\11\\-12\\12\\-11\\13\\-21\\11\\-10\\12\\-12\\10\\-11\\13\\-12\\
11\\-13\\12\\-10\\13\\-11\\10\\-24\\12\\-12\\11\\-11\\13\\-10\\12\\-13\\11\\-12\\10\\-17\\
12\\-12\\11\\-11\\13\\-12\\10\\-10\\12\\-28\\11\\-12\\13\\-11\\12\\-10\\11\\-13\\12\\-12\\
10\\-11\\12\\-13\\11\\-10\\13\\-12\\12\\-11\\10\\-22\\11\\-12\\13\\-11\\12\\-12\\11\\-13\\
13\\-10\\12\\-12\\11\\-11\\10\\-26\\12\\-13\\11\\-12\\13\\-10\\12\\-11\\10\\-19\\12\\-12\\
11\\-12\\13\\-11\\12\\-10\\10\\-13\\11\\-12\\12\\-25\\13\\-11\\11\\-12\\12\\-10\\10\\-11\\};
\end{axis}
\end{tikzpicture}
\end{document}
